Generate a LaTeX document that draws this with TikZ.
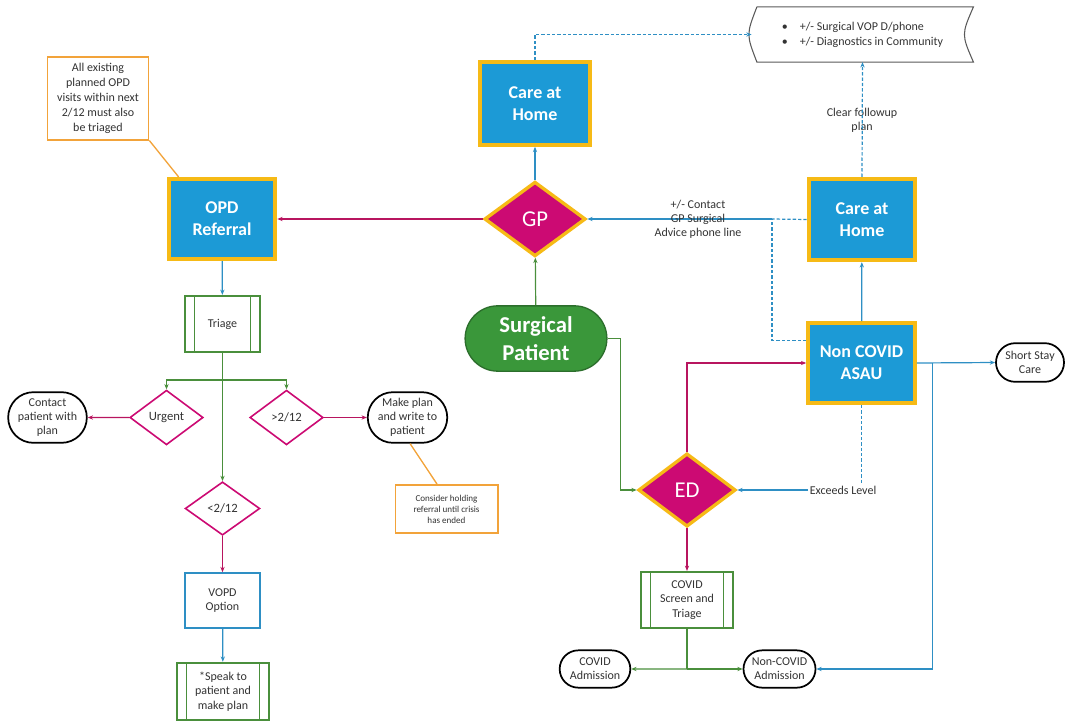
\documentclass[tikz,border=0pt]{standalone}
\usepackage{fontspec}
\setmainfont{Carlito}
\usepackage{xcolor}
\usetikzlibrary{shapes.geometric,shapes.misc,arrows.meta}

\definecolor{boxblue}{HTML}{1C9AD6}
\definecolor{boxgold}{HTML}{F6BA16}
\definecolor{gpred}{HTML}{CC0A73}
\definecolor{patgreen}{HTML}{3A973A}
\definecolor{patedge}{HTML}{2C6E2C}
\definecolor{linegreen}{HTML}{4A8F3C}
\definecolor{lineblue}{HTML}{2E8FC4}
\definecolor{linemag}{HTML}{B8155F}
\definecolor{noteorange}{HTML}{F2A33A}
\definecolor{txtgray}{HTML}{333333}

\begin{document}
\begin{tikzpicture}[x=0.75pt,y=-0.75pt,>={Stealth[length=4pt,width=3.2pt]},
bigbox/.style={rectangle,fill=boxblue,draw=boxgold,line width=3pt,text=white,
  font=\bfseries\fontsize{13.5}{16.5}\selectfont,align=center},
bigdia/.style={diamond,fill=gpred,draw=boxgold,line width=2.5pt,text=white,
  font=\fontsize{17}{19}\selectfont,inner sep=0pt},
smalldia/.style={diamond,fill=white,draw=gpred,line width=1.2pt,text=txtgray,
  font=\fontsize{9.5}{11}\selectfont,inner sep=0pt,minimum width=55pt,minimum height=41pt},
pill/.style={rounded rectangle,draw=black,line width=1.3pt,fill=white,text=txtgray,
  font=\fontsize{9}{10.5}\selectfont,align=center,inner sep=1pt},
procbox/.style={rectangle,draw=linegreen,line width=1.6pt,fill=white,text=txtgray,
  font=\fontsize{9}{11}\selectfont,align=center,
  path picture={\draw[linegreen,line width=1.2pt]
    ([xshift=7pt]path picture bounding box.north west) -- ([xshift=7pt]path picture bounding box.south west)
    ([xshift=-7pt]path picture bounding box.north east) -- ([xshift=-7pt]path picture bounding box.south east);}},
notebox/.style={rectangle,draw=noteorange,line width=1pt,fill=white,text=txtgray,align=center},
lbl/.style={text=txtgray,font=\fontsize{9}{10.5}\selectfont,align=center},
blueline/.style={lineblue,line width=0.9pt},
greenline/.style={linegreen,line width=0.9pt},
magline/.style={linemag,line width=0.9pt},
orangeline/.style={noteorange,line width=1pt},
fine dash/.style={dash pattern=on 2.5pt off 1.5pt}]

\useasboundingbox (0,0) rectangle (1067,724);

% top left
\node[notebox,font=\fontsize{9}{11.2}\selectfont,minimum width=76pt,minimum height=62pt] (allnote) at (98,98.5)
  {All existing\\planned OPD\\visits within next\\2/12 must also\\be triaged};
\node[bigbox,minimum width=80pt,minimum height=60pt] (opd) at (222,219) {OPD\\Referral};
\node[procbox,minimum width=56pt,minimum height=42pt] (triage) at (222.5,324) {Triage};
\node[smalldia] (urgent) at (166.5,417.5) {Urgent};
\node[smalldia] (later) at (286.5,417.5) {\textgreater 2/12};
\node[pill,minimum width=56pt,minimum height=38pt] (contact) at (47.5,417.5) {Contact\\patient with\\plan};
\node[pill,minimum width=59pt,minimum height=38pt] (makeplan) at (407.5,417.5) {Make plan\\and write to\\patient};
\node[notebox,font=\fontsize{6.8}{8.3}\selectfont,minimum width=77pt,minimum height=36pt] (holdnote) at (446.5,509)
  {Consider holding\\referral until crisis\\has ended};
\node[smalldia,minimum width=56pt,minimum height=40pt] (soon) at (222.5,508.5) {\textless 2/12};
\node[rectangle,draw=lineblue,line width=1.5pt,fill=white,text=txtgray,font=\fontsize{9}{11}\selectfont,
  align=center,minimum width=56pt,minimum height=41pt] (vopd) at (222.5,600.5) {VOPD\\Option};
\node[procbox,minimum width=69pt,minimum height=43pt] (speak) at (223,691.5) {*Speak to\\patient and\\make plan};

% centre
\node[bigbox,minimum width=82pt,minimum height=62pt] (homeleft) at (535,103.5) {Care at\\Home};
\node[bigdia,minimum width=76pt,minimum height=56pt] (gp) at (535,219) {GP};
\node[rounded rectangle,fill=patgreen,draw=patedge,line width=1pt,text=white,align=center,
  font=\bfseries\fontsize{17}{21}\selectfont,minimum width=113pt,minimum height=49pt] (surg) at (536,338.5) {Surgical\\Patient};

% right
\node[text=txtgray,font=\fontsize{9}{11.2}\selectfont,align=left,minimum width=166pt,minimum height=41pt] (comm) at (862.5,34.5)
  {\textbullet\hspace{9pt}+/- Surgical VOP D/phone\\\textbullet\hspace{9pt}+/- Diagnostics in Community};
\draw[gray!70!black,line width=0.8pt] ([xshift=4pt]comm.north west) -- (comm.north east)
  .. controls ([xshift=-9pt]comm.east) .. (comm.south east) -- ([xshift=4pt]comm.south west)
  .. controls ([xshift=-4pt]comm.west) .. ([xshift=4pt]comm.north west);
\node[bigbox,minimum width=80pt,minimum height=61pt] (homeright) at (862,219.5) {Care at\\Home};
\node[bigbox,minimum width=80pt,minimum height=60pt] (asau) at (861.5,363) {Non COVID\\ASAU};
\node[pill,minimum width=53pt,minimum height=29pt] (short) at (1030,362.5) {Short Stay\\Care};
\node[bigdia,minimum width=73pt,minimum height=55pt] (ed) at (687,490) {ED};
\node[procbox,minimum width=69pt,minimum height=42pt] (ctriage) at (687,600) {COVID\\Screen and\\Triage};
\node[pill,minimum width=55pt,minimum height=28pt] (cadm) at (595,669) {COVID\\Admission};
\node[pill,minimum width=56pt,minimum height=28pt] (nadm) at (779.5,669) {Non-COVID\\Admission};

\node[lbl,fill=white,inner sep=1pt] (followup) at (862,120) {Clear followup\\plan};
\node[lbl,fill=white,inner sep=1pt] (exceeds) at (843,490) {Exceeds Level};
\coordinate (jn) at (772,219);
\coordinate (tj) at (222,380);
\coordinate (cj) at (687,669);

% connectors
\draw[orangeline] (allnote.south east) -- ([xshift=9pt]opd.north west);
\draw[orangeline] ([xshift=2pt]makeplan.south) -- ([xshift=-7pt]holdnote.north);
\draw[magline,->] (gp) -- (opd);
\draw[blueline,->] (gp) -- (homeleft);
\draw[blueline,fine dash,->] (homeleft.north) |- (comm.west);
\draw[blueline,fine dash,->] (homeright.north) -- (comm.south);
\draw[greenline,->] (surg) -- (gp);
\draw[greenline,->] (surg.east) -- ++(13,0) |- (ed.west);
\draw[magline,->] (ed.north) |- (asau.west);
\draw[blueline,->] (asau) -- (homeright);
\draw[blueline,->] (asau.east) -- (short.west);
\draw[blueline,->] (asau.east) ++(16,0) |- (nadm.east);
\draw[blueline,fine dash] (asau.south) -- (asau.south |- exceeds.north);
\draw[blueline,->] (exceeds.west) -- (ed.east);
\draw[blueline,fine dash] (homeright.west) -- (jn);
\draw[blueline,fine dash] ([yshift=17pt]asau.west) -| (jn);
\draw[blueline,->] (jn) -- (gp.east);
\node[lbl] (phonelbl) at (698,219) {+/- Contact\\GP Surgical\\Advice phone line};
\draw[magline,->] (ed) -- (ctriage);
\draw[greenline] (ctriage) -- (cj);
\draw[greenline,->] (cj) -- (cadm);
\draw[greenline,->] (cj) -- (nadm);

\draw[blueline,->] (opd) -- (triage);
\draw[greenline,->] (triage) -- (soon);
\draw[greenline,->] (tj) -| (urgent.north);
\draw[greenline,->] (tj) -| (later.north);
\draw[magline,->] (urgent) -- (contact);
\draw[magline,->] (later) -- (makeplan);
\draw[magline,->] (soon) -- (vopd);
\draw[blueline,->] (vopd) -- (speak);
\end{tikzpicture}
\end{document}
